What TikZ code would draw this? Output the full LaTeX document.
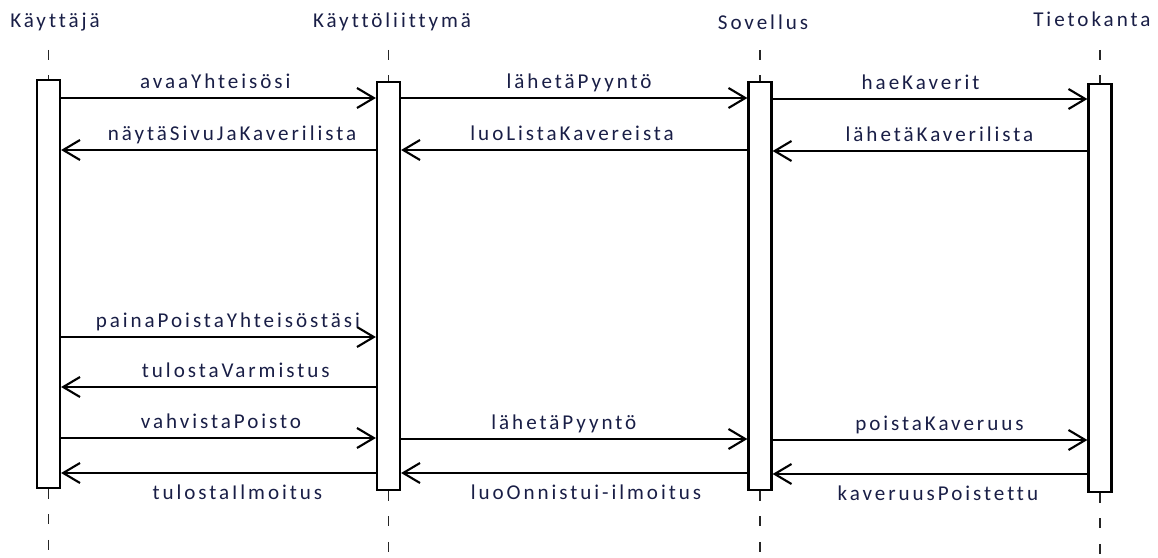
\documentclass[tikz,border=0pt]{standalone}
\usepackage{fontspec}
\setmainfont{Carlito}[LetterSpace=14, Ligatures={NoCommon}]
\usetikzlibrary{arrows.meta}
\definecolor{msgtext}{RGB}{25,30,70}

\begin{document}
\begin{tikzpicture}[x=0.025cm, y=-0.025cm]
\tikzstyle{every node}+=[inner sep=0pt, font=\fontsize{15}{18}\selectfont, text=msgtext]
\tikzstyle{actbox}=[draw=black, line width=1.6pt, fill=white, minimum width=0.575cm, minimum height=10.2cm]
\tikzstyle{life}=[black!85, line width=1.4pt, dash pattern=on 7pt off 11pt]
\tikzstyle{msg}=[black, line width=1.5pt, -{Straight Barb[length=0.42cm, width=0.5cm, line width=1.5pt]}]
\tikzstyle{lab}=[anchor=base, yshift=7pt]
\tikzstyle{labb}=[anchor=base, yshift=-19pt]
\useasboundingbox (0,0) rectangle (1158,558);
\node (kt) at (55,22) {Käyttäjä};
\node (ui) at (392,22) {Käyttöliittymä};
\node (sov) at (763,22) {Sovellus};
\node[anchor=west] (db) at (1033,19) {Tietokanta};
\coordinate (kt top) at (48.5,50);
\coordinate (ui top) at (388.5,50);
\coordinate (sov top) at (760,50);
\coordinate (db top) at (1100,50);
\coordinate (kt bot) at (48.5,558);
\coordinate (ui bot) at (388.5,558);
\coordinate (sov bot) at (760,558);
\coordinate (db bot) at (1100,558);
\node[actbox] (ktbox) at (48.5,284) {};
\node[actbox] (uibox) at (388.5,286) {};
\node[actbox] (sovbox) at (760,286) {};
\node[actbox] (dbbox) at (1100,288) {};
\draw[life] (kt top) -- (ktbox.north);
\draw[life] (ui top) -- (uibox.north);
\draw[life] (sov top) -- (sovbox.north);
\draw[life] (db top) -- (dbbox.north);
\draw[life] (ktbox.south) -- (kt bot);
\draw[life] (uibox.south) -- (ui bot);
\draw[life] (sovbox.south) -- (sov bot);
\draw[life] (dbbox.south) -- (db bot);
\draw[msg] (ktbox.east |- 0,98) -- (uibox.west |- 0,98) node[lab, pos=0.49] (m1) {avaaYhteisösi};
\draw[msg] (uibox.west |- 0,150) -- (ktbox.east |- 0,150) node[lab, pos=0.457] (m2) {näytäSivuJaKaverilista};
\draw[msg] (uibox.east |- 0,98) -- (sovbox.west |- 0,98) node[lab, pos=0.514] (m3) {lähetäPyyntö};
\draw[msg] (sovbox.west |- 0,150) -- (uibox.east |- 0,150) node[lab, pos=0.506] (m4) {luoListaKavereista};
\draw[msg] (sovbox.east |- 0,99) -- (dbbox.west |- 0,99) node[lab, pos=0.47] (m5) {haeKaverit};
\draw[msg] (dbbox.west |- 0,151) -- (sovbox.east |- 0,151) node[lab, pos=0.47] (m6) {lähetäKaverilista};
\draw[msg] (ktbox.east |- 0,337) -- (uibox.west |- 0,337) node[lab, pos=0.53] (m7) {painaPoistaYhteisöstäsi};
\draw[msg] (uibox.west |- 0,387) -- (ktbox.east |- 0,387) node[lab, pos=0.445] (m8) {tulostaVarmistus};
\draw[msg] (ktbox.east |- 0,438) -- (uibox.west |- 0,438) node[lab, pos=0.508] (m9) {vahvistaPoisto};
\draw[msg] (uibox.west |- 0,473) -- (ktbox.east |- 0,473) node[labb, pos=0.44] (m10) {tulostaIlmoitus};
\draw[msg] (uibox.east |- 0,439) -- (sovbox.west |- 0,439) node[lab, pos=0.47] (m11) {lähetäPyyntö};
\draw[msg] (sovbox.west |- 0,473) -- (uibox.east |- 0,473) node[labb, pos=0.466] (m12) {luoOnnistui-ilmoitus};
\draw[msg] (sovbox.east |- 0,440) -- (dbbox.west |- 0,440) node[lab, pos=0.53] (m13) {poistaKaveruus};
\draw[msg] (dbbox.west |- 0,474) -- (sovbox.east |- 0,474) node[labb, pos=0.475] (m14) {kaveruusPoistettu};
\end{tikzpicture}
\end{document}
